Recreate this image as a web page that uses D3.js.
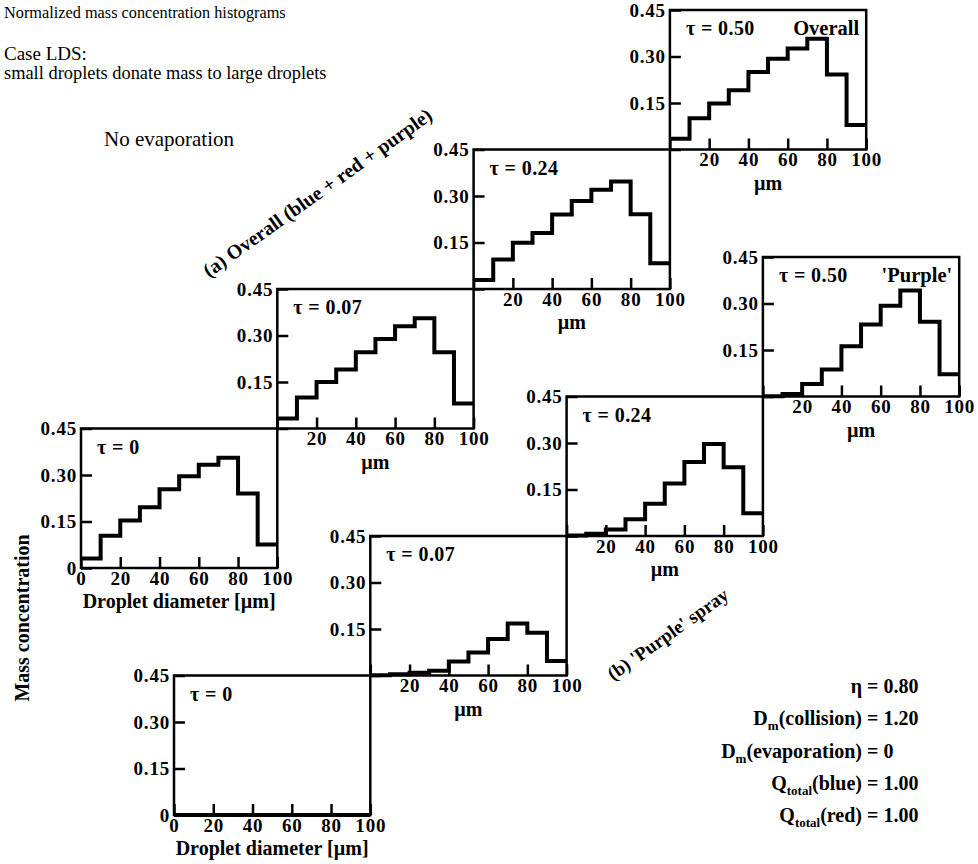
<!DOCTYPE html>
<html>
<head>
<meta charset="utf-8">
<script src="https://cdn.jsdelivr.net/npm/d3@7"></script>
<style>
  body { margin: 0; background: #fff; }
  svg text { font-family: "Liberation Serif", "Times New Roman", serif; fill: #000; }
  .tick line { stroke: #000; stroke-width: 2.5; }
  .tick text { font-size: 19px; font-weight: bold; letter-spacing: 0.8px; }
</style>
</head>
<body>
<svg id="chart" width="978" height="864"></svg>
<script>
// ---- data -------------------------------------------------------------- //
const binEdges = [0, 10, 20, 30, 40, 50, 60, 70, 80, 90, 100];
const xTickValues = [0, 20, 40, 60, 80, 100];
const yTickValues = [0, 0.15, 0.30, 0.45];
const yTickLabels = ["0", "0.15", "0.30", "0.45"];
const tauLabels = ["τ = 0", "τ = 0.07", "τ = 0.24", "τ = 0.50"];

// (a) overall (blue + red + purple), mass fraction per 10 µm bin
const overallT000 = [0.031, 0.104, 0.153, 0.196, 0.254, 0.296, 0.333, 0.356, 0.240, 0.076];
const overallT007 = [0.032, 0.100, 0.150, 0.190, 0.246, 0.289, 0.330, 0.356, 0.246, 0.081];
const overallT024 = [0.029, 0.095, 0.149, 0.181, 0.240, 0.284, 0.320, 0.347, 0.241, 0.083];
const overallT050 = [0.035, 0.101, 0.148, 0.191, 0.250, 0.293, 0.326, 0.357, 0.242, 0.079];

// (b) 'purple' spray
const purpleT000 = [0, 0, 0, 0, 0, 0, 0, 0, 0, 0];
const purpleT007 = [0.001, 0.004, 0.009, 0.015, 0.045, 0.074, 0.118, 0.168, 0.138, 0.047];
const purpleT024 = [0.002, 0.007, 0.021, 0.054, 0.104, 0.169, 0.239, 0.297, 0.222, 0.073];
const purpleT050 = [0.001, 0.008, 0.040, 0.087, 0.162, 0.232, 0.293, 0.342, 0.241, 0.072];

const overallSeries = [overallT000, overallT007, overallT024, overallT050];
const purpleSeries = [purpleT000, purpleT007, purpleT024, purpleT050];

const paramLabels = [
  { main: "η", sub: "", rest: "", value: "= 0.80" },
  { main: "D", sub: "m", rest: "(collision)", value: "= 1.20" },
  { main: "D", sub: "m", rest: "(evaporation)", value: "= 0" },
  { main: "Q", sub: "total", rest: "(blue)", value: "= 1.00" },
  { main: "Q", sub: "total", rest: "(red)", value: "= 1.00" }
];

// ---- layout ------------------------------------------------------------ //
const W = 196.3, H = 139.5;          // size of one panel box
const overallOrigin = { x: 81, y: 568 };   // bottom-left corner of (a) tau=0
const purpleOrigin = { x: 174, y: 815 };   // bottom-left corner of (b) tau=0

const svg = d3.select("#chart");

// one histogram panel; the staircase of panels is just origin + i*(W, -H)
function panel(values, i, origin, tag) {
  const x0 = origin.x + i * W;
  const yb = origin.y - i * H;
  const x = d3.scaleLinear().domain([0, 100]).range([x0, x0 + W]);
  const y = d3.scaleLinear().domain([0, 0.45]).range([yb, yb - H]);
  const first = i === 0;
  const g = svg.append("g");

  // inward ticks + labels below / left
  const xAxis = d3.axisBottom(x)
    .tickValues(xTickValues)
    .tickSizeInner(-11).tickSizeOuter(0).tickPadding(3)
    .tickFormat(d => (d === 0 && !first) ? "" : d);
  g.append("g").attr("transform", `translate(0,${yb})`).call(xAxis)
    .call(a => a.select(".domain").remove())
    .call(a => a.selectAll(".tick text").attr("font-family", null).attr("font-size", null));

  const yAxis = d3.axisLeft(y)
    .tickValues(yTickValues)
    .tickSizeInner(-11).tickSizeOuter(0).tickPadding(4)
    .tickFormat((d, k) => (d === 0 && !first) ? "" : yTickLabels[k]);
  g.append("g").attr("transform", `translate(${x0},0)`).call(yAxis)
    .call(a => a.select(".domain").remove())
    .call(a => a.selectAll(".tick text").attr("font-family", null).attr("font-size", null));

  // frame
  g.append("rect")
    .attr("x", x(0)).attr("y", y(0.45))
    .attr("width", x(100) - x(0)).attr("height", y(0) - y(0.45))
    .attr("fill", "none").attr("stroke", "#000").attr("stroke-width", 2.5);

  // histogram as a step line
  const pts = values.map((v, k) => [binEdges[k], v]);
  pts.push([100, values[values.length - 1]]);
  const line = d3.line().x(d => x(d[0])).y(d => y(d[1])).curve(d3.curveStepAfter);
  g.append("path").attr("d", line(pts))
    .attr("fill", "none").attr("stroke", "#000").attr("stroke-width", 4)
    .attr("stroke-linejoin", "miter");

  // tau label and optional tag
  g.append("text").attr("x", x0 + 16).attr("y", y(0.45) + 25)
    .attr("font-size", 20).attr("font-weight", "bold").attr("letter-spacing", 0.4)
    .text(tauLabels[i]);
  if (tag) {
    g.append("text").attr("x", x(100) - 7).attr("y", y(0.45) + 25)
      .attr("text-anchor", "end").attr("font-size", 20.5).attr("font-weight", "bold").text(tag);
  }

  // axis title
  g.append("text").attr("x", (x(0) + x(100)) / 2).attr("y", yb + 40)
    .attr("text-anchor", "middle").attr("font-size", 20).attr("font-weight", "bold")
    .text(first ? "Droplet diameter [µm]" : "µm");
}

overallSeries.forEach((v, i) => panel(v, i, overallOrigin, i === 3 ? "Overall" : null));
purpleSeries.forEach((v, i) => panel(v, i, purpleOrigin, i === 3 ? "'Purple'" : null));

// ---- free text ---------------------------------------------------------- //
const note = (x, y, s, size, weight) => svg.append("text")
  .attr("x", x).attr("y", y).attr("font-size", size).attr("font-weight", weight || "normal").text(s);

note(4, 18, "Normalized mass concentration histograms", 16.3);
note(4, 60, "Case LDS:", 19);
note(4, 79, "small droplets donate mass to large droplets", 18.4);
note(104, 146, "No evaporation", 21);

const slope = -Math.atan2(H, W) * 180 / Math.PI;
svg.append("text").attr("transform", `translate(209,278) rotate(${slope})`)
  .attr("font-size", 20).attr("font-weight", "bold").text("(a) Overall (blue + red + purple)");
svg.append("text").attr("transform", `translate(613,681) rotate(${slope})`)
  .attr("font-size", 19).attr("font-weight", "bold").text("(b) 'Purple' spray");

svg.append("text").attr("transform", "translate(29,618) rotate(-90)")
  .attr("text-anchor", "middle").attr("font-size", 20).attr("font-weight", "bold")
  .text("Mass concentration");

// parameter block, aligned on the "=" sign
const eqX = 865;
paramLabels.forEach((p, k) => {
  const yy = 693 + k * 32.3;
  const t = svg.append("text").attr("x", eqX - 3).attr("y", yy)
    .attr("text-anchor", "end").attr("font-size", 20).attr("font-weight", "bold");
  t.append("tspan").text(p.main);
  if (p.sub) t.append("tspan").attr("font-size", 13).attr("dy", 5).text(p.sub);
  if (p.rest) t.append("tspan").attr("dy", p.sub ? -5 : 0).text(p.rest);
  svg.append("text").attr("x", eqX + 2).attr("y", yy)
    .attr("font-size", 20).attr("font-weight", "bold").text(p.value);
});
</script>
</body>
</html>
